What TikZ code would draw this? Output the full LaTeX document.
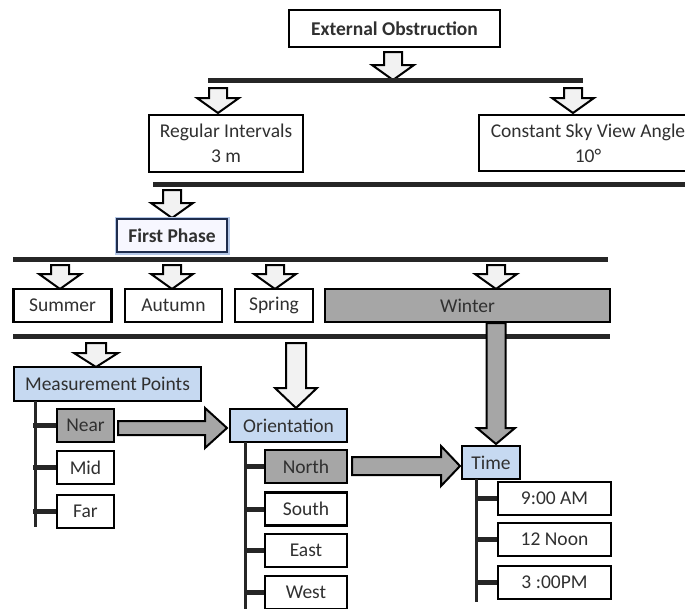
\documentclass[tikz,border=0pt]{standalone}
\usepackage{fontspec}
\setmainfont{Carlito}
\definecolor{lblue}{HTML}{C6D9F1}
\definecolor{gbox}{HTML}{A6A6A6}
\definecolor{hollow}{HTML}{F2F2F2}
\definecolor{barc}{HTML}{262626}
\definecolor{txt}{HTML}{303030}
\definecolor{navy}{HTML}{1F2D4D}
\definecolor{glow}{HTML}{B4C7E7}
\newcommand{\blockdown}[7]{%
  \filldraw[#1] (#2-#5,#3) -- (#2+#5,#3) -- (#2+#5,#4-#7) -- (#2+#6,#4-#7) -- (#2,#4) -- (#2-#6,#4-#7) -- (#2-#5,#4-#7) -- cycle;}
\newcommand{\blockright}[7]{%
  \filldraw[#1] (#3,#2-#5) -- (#4-#7,#2-#5) -- (#4-#7,#2-#6) -- (#4,#2) -- (#4-#7,#2+#6) -- (#4-#7,#2+#5) -- (#3,#2+#5) -- cycle;}
\begin{document}
\begin{tikzpicture}[x=1pt,y=-1pt,
  every node/.style={font=\fontsize{19.5}{23}\selectfont, text=txt},
  box/.style={draw=black, line width=2.2pt, fill=white, inner sep=0pt, align=center, minimum height=33},
  bluebox/.style={box, fill=lblue},
  graybox/.style={box, fill=gbox},
  bar/.style={draw=barc, line width=5pt},
  trunk/.style={draw=barc, line width=3pt},
  twig/.style={draw=barc, line width=5pt},
  harrow/.style={draw=black, line width=2pt, fill=hollow, line join=miter},
  garrow/.style={draw=black, line width=2pt, fill=gbox, line join=miter}]
\useasboundingbox (0,0) rectangle (685,608);
\clip (0,0) rectangle (685,608);
\fill[white] (0,0) rectangle (685,608);

% top level
\node[box, minimum width=211, minimum height=37, font=\fontsize{19.5}{23}\selectfont\bfseries] (eo) at (394.5,28.5) {External Obstruction};
\blockdown{harrow}{393}{52}{80}{9}{21}{15}
\draw[bar] (208,80) -- (583,80);
\blockdown{harrow}{218}{88}{113}{9}{21}{15}
\blockdown{harrow}{573}{88}{113}{9}{21}{15}
\node[box, minimum width=154, minimum height=57] (ri) at (226,143.5) {Regular Intervals\\[2pt]3 m};
\node[box, minimum width=218, minimum height=56] (csv) at (588,143) {Constant Sky View Angle\\[2pt]10°};
\draw[bar] (153,184) -- (700,184);

% first phase
\blockdown{harrow}{172}{190}{218}{9}{21}{15}
\node[box, draw=navy, line width=2.4pt, fill=blue!3, preaction={draw=glow, line width=5pt},
      minimum width=110, minimum height=33, font=\fontsize{19.5}{23}\selectfont\bfseries] (fp) at (172,235.5) {First Phase};
\draw[bar] (13,259) -- (608,259);

% seasons
\blockdown{harrow}{60}{265}{289}{9}{21}{15}
\blockdown{harrow}{172}{265}{289}{9}{21}{15}
\blockdown{harrow}{275}{265}{289}{9}{21}{15}
\blockdown{harrow}{496}{265}{289}{9}{21}{15}
\node[box, minimum width=98] (summer) at (62.5,305.5) {Summer};
\node[box, minimum width=97] (autumn) at (173.5,305.5) {Autumn};
\node[box, minimum width=78] (spring) at (274,305.5) {Spring};
\node[graybox, minimum width=285] (winter) at (467.5,305.5) {Winter};
\draw[bar] (13,336) -- (610,336);

% measurement points
\blockdown{harrow}{96}{343}{367}{10}{22}{14}
\node[bluebox, minimum width=187, minimum height=34] (mp) at (107.5,384) {Measurement Points};
\node[graybox, minimum width=57] (near) at (85.5,425.5) {Near};
\node[box, minimum width=57] (mid) at (85.5,467.5) {Mid};
\node[box, minimum width=57] (far) at (85.5,511.5) {Far};
\draw[trunk] (35,401) -- (35,527);
\draw[twig] (near.west) -- ++(-23,0);
\draw[twig] (mid.west) -- ++(-23,0);
\draw[twig] (far.west) -- ++(-23,0);

% orientation
\blockdown{harrow}{296}{343}{408}{10}{21}{20}
\node[bluebox, minimum width=117] (or) at (288.5,425.5) {Orientation};
\blockright{garrow}{428}{118}{227}{7}{20}{22}
\node[graybox, minimum width=82] (north) at (306,466.5) {North};
\node[box, minimum width=82] (south) at (306,509) {South};
\node[box, minimum width=82] (east) at (306,550.5) {East};
\node[box, minimum width=82] (west) at (306,592.5) {West};
\draw[trunk] (245,442) -- (245,612);
\draw[twig] (north.west) -- ++(-20,0);
\draw[twig] (south.west) -- ++(-20,0);
\draw[twig] (east.west) -- ++(-20,0);
\draw[twig] (west.west) -- ++(-20,0);

% time
\node[bluebox, minimum width=58] (time) at (491,462.5) {Time};
\blockdown{garrow}{496}{323}{444}{9.5}{19}{16}
\blockright{garrow}{466}{352}{460}{9}{20}{19}
\node[box, minimum width=113] (t9) at (554.5,498.5) {9:00 AM};
\node[box, minimum width=113] (t12) at (554.5,539.5) {12 Noon};
\node[box, minimum width=113] (t3) at (554.5,582.5) {3 :00PM};
\draw[trunk] (476,479) -- (476,602);
\draw[twig] (t9.west) -- ++(-22,0);
\draw[twig] (t12.west) -- ++(-22,0);
\draw[twig] (t3.west) -- ++(-22,0);
\end{tikzpicture}
\end{document}
